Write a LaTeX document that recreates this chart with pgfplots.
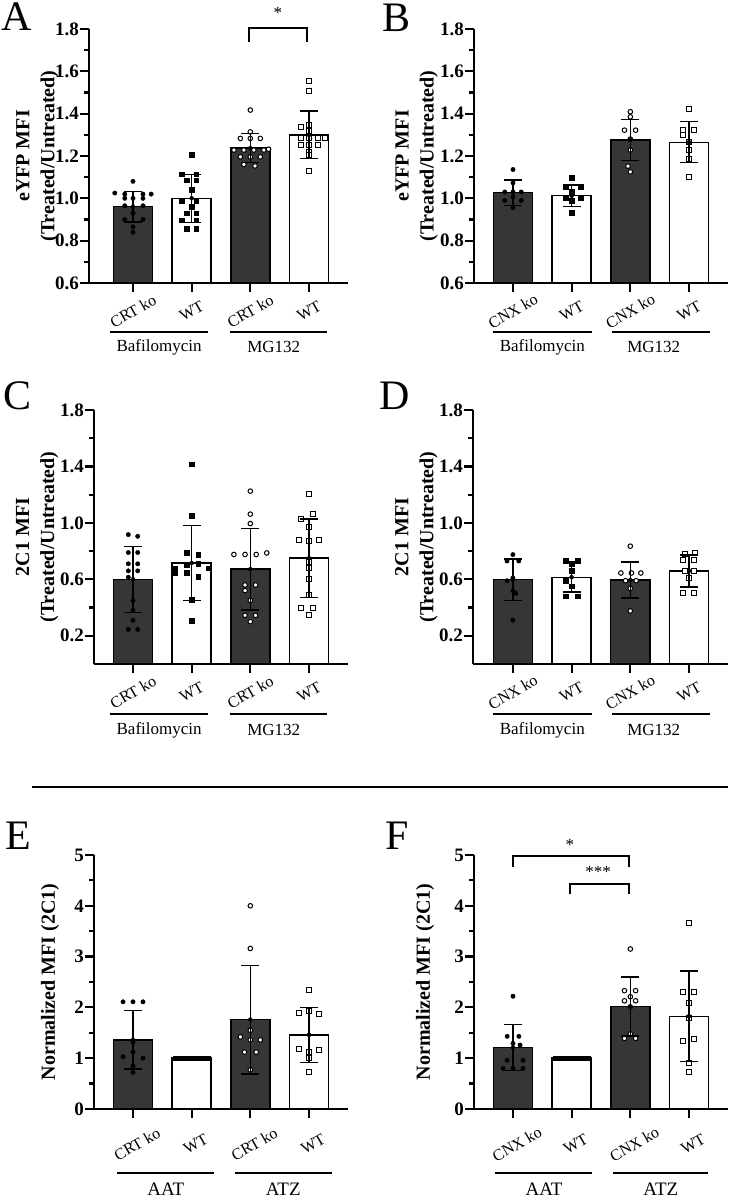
\documentclass[border=0pt]{standalone}
\usepackage{pgfplots}
\pgfplotsset{compat=1.18}
\usepackage{fontspec}
\setmainfont{Liberation Serif}
\definecolor{barDark}{RGB}{54,54,54}
\newcommand{\tickfont}{\bfseries\fontsize{19}{19}\selectfont}
\newcommand{\labfont}{\bfseries\fontsize{20}{25}\selectfont}
\newcommand{\catfont}{\fontsize{16}{16}\selectfont}
\newcommand{\grpfont}{\fontsize{17}{17}\selectfont}
\newcommand{\bigfont}{\fontsize{19}{19}\selectfont}
\pgfplotsset{
  panel/.style={
    scale only axis, height=254pt,
    axis lines=left, axis line style={-, line width=2.6pt, black},
    tick align=outside, major tick length=9pt, minor tick length=5pt,
    tick style={black, line width=2.2pt},
    minor x tick num=0, minor y tick num=1,
    xtick={0,1,2,3},
    xticklabel style={font=\catfont, anchor=center, yshift=-19pt, rotate=30},
    yticklabel style={font=\tickfont, inner sep=1pt},
    ylabel style={font=\labfont, align=center, anchor=center},
    clip mode=individual,
  },
  darkbar/.style={ybar, bar width=0.665, bar shift=0pt, fill=barDark, draw=black, line width=1.4pt},
  whitebar/.style={ybar, bar width=0.665, bar shift=0pt, fill=white, draw=black, line width=1.4pt},
  errs/.style={black, only marks, mark=none, error bars/.cd, y dir=both, y explicit,
    error bar style={line width=1.4pt, black},
    error mark options={rotate=90, mark size=9pt, line width=1.4pt, black}},
  fcirc/.style={only marks, mark=*, mark size=2.2pt, mark options={fill=black, draw=black, line width=0.4pt}},
  fsq/.style={only marks, mark=square*, mark size=2.3pt, mark options={fill=black, draw=black, line width=0.4pt}},
  ocirc/.style={only marks, mark=*, mark size=2.3pt, mark options={fill=white, draw=black, line width=1pt}},
  osq/.style={only marks, mark=square*, mark size=2.5pt, mark options={fill=white, draw=black, line width=1pt}},
}
\begin{document}
\begin{tikzpicture}[x=1pt,y=1pt]
\path[use as bounding box] (0,0) rectangle (731,1199);

% ---------------- Panel A ----------------
\begin{axis}[panel, at={(89pt,916pt)}, anchor=south west, width=259pt,
  xmin=-0.75, xmax=3.665, ymin=0.6, ymax=1.8,
  ytick={0.6,0.8,1.0,1.2,1.4,1.6,1.8}, yticklabels={0.6,0.8,1.0,1.2,1.4,1.6,1.8},
  xticklabels={CRT ko,WT,CRT ko,WT},
  ylabel={eYFP MFI\\(Treated/Untreated)},
  ylabel style={at={(axis description cs:-0.199,0.5)}}]
\addplot[darkbar] coordinates {(0,0.96) (2,1.237)};
\addplot[whitebar] coordinates {(1,1.0) (3,1.30)};
\addplot[fcirc] coordinates {(0,1.08) (-0.31,1.025) (-0.14,1.02) (0.17,1.02) (0.31,1.02) (-0.14,1.0) (0,1.0) (0.17,1.0) (-0.14,0.965) (0.17,0.965) (0,0.93) (-0.14,0.90) (0.17,0.90) (0,0.865) (0,0.84)};
\addplot[fsq] coordinates {(1,1.207) (0.83,1.114) (1.08,1.114) (0.92,1.086) (1.08,1.086) (1,1.04) (0.83,0.99) (1.08,0.99) (1,0.96) (0.92,0.93) (1.08,0.93) (0.83,0.896) (1.08,0.896) (0.92,0.857) (1.08,0.857)};
\addplot[ocirc] coordinates {(2,1.417) (2,1.314) (1.83,1.283) (2,1.283) (2.17,1.283) (1.72,1.228) (1.89,1.228) (2.06,1.228) (2.23,1.228) (2.31,1.232) (1.83,1.196) (2,1.196) (2.17,1.196) (1.89,1.16) (2.08,1.153)};
\addplot[osq] coordinates {(3,1.556) (3,1.508) (2.87,1.338) (3,1.346) (3,1.32) (2.87,1.283) (3,1.283) (3.15,1.283) (3.27,1.283) (2.87,1.251) (3,1.251) (3.15,1.251) (3,1.22) (3,1.204) (3,1.127)};
\addplot[errs] coordinates {(0,0.96) +- (0,0.072) (1,1.0) +- (0,0.113) (2,1.237) +- (0,0.068) (3,1.30) +- (0,0.113)};
\draw[line width=2pt] (axis cs:1.97,1.74) -- (axis cs:1.97,1.803) -- (axis cs:2.97,1.803) -- (axis cs:2.97,1.74);
\node[font=\grpfont] at (axis cs:2.47,1.875) {*};
\draw[line width=2.6pt] ([yshift=-49pt]axis cs:-0.39,0.6) -- ([yshift=-49pt]axis cs:1.28,0.6);
\draw[line width=2.6pt] ([yshift=-49pt]axis cs:1.65,0.6) -- ([yshift=-49pt]axis cs:3.31,0.6);
\node[font=\grpfont] at ([yshift=-64pt]axis cs:0.445,0.6) {Bafilomycin};
\node[font=\grpfont] at ([yshift=-64pt]axis cs:2.40,0.6) {MG132};
\end{axis}

% ---------------- Panel B ----------------
\begin{axis}[panel, at={(474pt,916pt)}, anchor=south west, width=254pt,
  xmin=-0.665, xmax=3.665, ymin=0.6, ymax=1.8,
  ytick={0.6,0.8,1.0,1.2,1.4,1.6,1.8}, yticklabels={0.6,0.8,1.0,1.2,1.4,1.6,1.8},
  xticklabels={CNX ko,WT,CNX ko,WT},
  ylabel={eYFP MFI\\(Treated/Untreated)},
  ylabel style={at={(axis description cs:-0.226,0.5)}}]
\addplot[darkbar] coordinates {(0,1.027) (2,1.275)};
\addplot[whitebar] coordinates {(1,1.012) (3,1.265)};
\addplot[fcirc] coordinates {(0,1.136) (0,1.073) (-0.14,1.03) (0,1.03) (0.14,1.03) (0,1.007) (-0.14,0.99) (0.14,0.99) (0,0.956)};
\addplot[fsq] coordinates {(1,1.097) (0.9,1.054) (1.15,1.054) (1,1.03) (0.9,1.0) (1.15,1.0) (1,0.99) (1,0.933)};
\addplot[ocirc] coordinates {(2,1.409) (2,1.385) (1.9,1.322) (2.09,1.322) (2,1.28) (2,1.228) (1.96,1.152) (2,1.125)};
\addplot[osq] coordinates {(3,1.422) (2.9,1.325) (3.08,1.325) (2.9,1.30) (3,1.267) (3,1.228) (3,1.188) (3,1.101)};
\addplot[errs] coordinates {(0,1.027) +- (0,0.06) (1,1.012) +- (0,0.05) (2,1.275) +- (0,0.097) (3,1.265) +- (0,0.097)};
\draw[line width=2.6pt] ([yshift=-49pt]axis cs:-0.34,0.6) -- ([yshift=-49pt]axis cs:1.35,0.6);
\draw[line width=2.6pt] ([yshift=-49pt]axis cs:1.69,0.6) -- ([yshift=-49pt]axis cs:3.36,0.6);
\node[font=\grpfont] at ([yshift=-64pt]axis cs:0.50,0.6) {Bafilomycin};
\node[font=\grpfont] at ([yshift=-64pt]axis cs:2.40,0.6) {MG132};
\end{axis}

% ---------------- Panel C ----------------
\begin{axis}[panel, at={(94pt,535pt)}, anchor=south west, width=254pt,
  xmin=-0.665, xmax=3.665, ymin=0, ymax=1.8,
  ytick={0.2,0.6,1.0,1.4,1.8}, yticklabels={0.2,0.6,1.0,1.4,1.8},
  xticklabels={CRT ko,WT,CRT ko,WT},
  ylabel={2C1 MFI\\(Treated/Untreated)},
  ylabel style={at={(axis description cs:-0.224,0.5)}}]
\addplot[darkbar] coordinates {(0,0.60) (2,0.672)};
\addplot[whitebar] coordinates {(1,0.716) (3,0.75)};
\addplot[fcirc] coordinates {(-0.08,0.917) (0.08,0.905) (-0.08,0.79) (0.08,0.79) (-0.08,0.71) (0.08,0.71) (-0.08,0.66) (0.08,0.66) (-0.08,0.615) (0,0.45) (0,0.38) (0,0.31) (-0.08,0.245) (0.08,0.245)};
\addplot[fsq] coordinates {(1,1.417) (1,1.049) (0.915,0.787) (1.11,0.775) (0.72,0.68) (0.915,0.70) (1.11,0.71) (1.28,0.68) (0.72,0.645) (0.915,0.645) (1.11,0.617) (1,0.456) (1,0.305)};
\addplot[ocirc] coordinates {(2,1.225) (2,1.062) (2,0.995) (1.72,0.776) (1.91,0.776) (2.1,0.776) (2.28,0.787) (1.91,0.56) (2.09,0.56) (1.91,0.52) (2,0.45) (1.91,0.345) (2.09,0.345) (2,0.30)};
\addplot[osq] coordinates {(3,1.208) (2.87,1.03) (3.07,1.06) (3,0.97) (2.83,0.88) (3,0.87) (3.17,0.88) (3,0.72) (3,0.68) (3,0.60) (3,0.49) (2.87,0.40) (3.07,0.40) (3,0.345)};
\addplot[errs] coordinates {(0,0.60) +- (0,0.234) (1,0.716) +- (0,0.264) (2,0.672) +- (0,0.288) (3,0.75) +- (0,0.278)};
\draw[line width=2.6pt] ([yshift=-50pt]axis cs:-0.39,0) -- ([yshift=-50pt]axis cs:1.28,0);
\draw[line width=2.6pt] ([yshift=-50pt]axis cs:1.65,0) -- ([yshift=-50pt]axis cs:3.31,0);
\node[font=\grpfont] at ([yshift=-66pt]axis cs:0.445,0) {Bafilomycin};
\node[font=\grpfont] at ([yshift=-66pt]axis cs:2.40,0) {MG132};
\end{axis}

% ---------------- Panel D ----------------
\begin{axis}[panel, at={(473pt,535pt)}, anchor=south west, width=255pt,
  xmin=-0.68, xmax=3.665, ymin=0, ymax=1.8,
  ytick={0.2,0.6,1.0,1.4,1.8}, yticklabels={0.2,0.6,1.0,1.4,1.8},
  xticklabels={CNX ko,WT,CNX ko,WT},
  ylabel={2C1 MFI\\(Treated/Untreated)},
  ylabel style={at={(axis description cs:-0.222,0.5)}}]
\addplot[darkbar] coordinates {(0,0.597) (2,0.595)};
\addplot[whitebar] coordinates {(1,0.615) (3,0.66)};
\addplot[fcirc] coordinates {(0,0.775) (-0.1,0.73) (0.1,0.73) (0,0.61) (-0.1,0.59) (0,0.52) (0.05,0.50) (0,0.31)};
\addplot[fsq] coordinates {(0.9,0.73) (1.1,0.73) (1,0.71) (1,0.66) (0.9,0.59) (1,0.55) (0.9,0.48) (1.1,0.48)};
\addplot[ocirc] coordinates {(2,0.835) (1.84,0.645) (2.02,0.645) (2.18,0.645) (1.92,0.59) (2.1,0.59) (2,0.535) (2,0.376)};
\addplot[osq] coordinates {(2.93,0.78) (3.1,0.785) (2.9,0.735) (3.09,0.735) (2.93,0.66) (3.08,0.66) (3,0.61) (2.9,0.505) (3.09,0.505)};
\addplot[errs] coordinates {(0,0.597) +- (0,0.147) (1,0.615) +- (0,0.106) (2,0.595) +- (0,0.128) (3,0.66) +- (0,0.113)};
\draw[line width=2.6pt] ([yshift=-50pt]axis cs:-0.34,0) -- ([yshift=-50pt]axis cs:1.35,0);
\draw[line width=2.6pt] ([yshift=-50pt]axis cs:1.69,0) -- ([yshift=-50pt]axis cs:3.36,0);
\node[font=\grpfont] at ([yshift=-66pt]axis cs:0.50,0) {Bafilomycin};
\node[font=\grpfont] at ([yshift=-66pt]axis cs:2.40,0) {MG132};
\end{axis}

% ---------------- Panel E ----------------
\begin{axis}[panel, at={(94pt,90pt)}, anchor=south west, width=254pt,
  xmin=-0.665, xmax=3.665, ymin=0, ymax=5,
  ytick={0,1,2,3,4,5}, yticklabels={0,1,2,3,4,5},
  xticklabels={CRT ko,WT,CRT ko,WT},
  xticklabel style={yshift=-8pt},
  ylabel={Normalized MFI (2C1)},
  ylabel style={at={(axis description cs:-0.173,0.5)}}]
\addplot[darkbar] coordinates {(0,1.36) (2,1.76)};
\addplot[whitebar] coordinates {(1,1.0) (3,1.46)};
\addplot[fcirc] coordinates {(-0.17,2.11) (0,2.11) (0.17,2.11) (0,1.31) (0,1.12) (-0.17,1.03) (0.17,1.0) (0,0.85) (0,0.72)};
\addplot[fsq] coordinates {(0.72,1) (0.79,1) (0.86,1) (0.93,1) (1,1) (1.07,1) (1.14,1) (1.21,1) (1.28,1)};
\addplot[ocirc] coordinates {(2,4.0) (2,3.16) (2,1.55) (1.83,1.42) (2.17,1.36) (2,1.36) (1.9,1.12) (2.1,1.12) (2,0.77)};
\addplot[osq] coordinates {(3,2.34) (2.83,1.88) (3,1.92) (3.17,1.87) (2.83,1.19) (3.17,1.16) (3,1.12) (3,1.0) (3,0.73)};
\addplot[errs] coordinates {(0,1.36) +- (0,0.575) (1,1.0) +- (0,0) (2,1.76) +- (0,1.07) (3,1.46) +- (0,0.54)};
\draw[line width=2.6pt] ([yshift=-64pt]axis cs:-0.27,0) -- ([yshift=-64pt]axis cs:1.38,0);
\draw[line width=2.6pt] ([yshift=-64pt]axis cs:1.74,0) -- ([yshift=-64pt]axis cs:3.39,0);
\node[font=\bigfont] at ([yshift=-80pt]axis cs:0.56,0) {AAT};
\node[font=\bigfont] at ([yshift=-80pt]axis cs:2.56,0) {ATZ};
\end{axis}

% ---------------- Panel F ----------------
\begin{axis}[panel, at={(474pt,90pt)}, anchor=south west, width=254pt,
  xmin=-0.665, xmax=3.665, ymin=0, ymax=5,
  ytick={0,1,2,3,4,5}, yticklabels={0,1,2,3,4,5},
  xticklabels={CNX ko,WT,CNX ko,WT},
  xticklabel style={yshift=-8pt},
  ylabel={Normalized MFI (2C1)},
  ylabel style={at={(axis description cs:-0.193,0.5)}}]
\addplot[darkbar] coordinates {(0,1.21) (2,2.02)};
\addplot[whitebar] coordinates {(1,1.0) (3,1.825)};
\addplot[fcirc] coordinates {(0,2.22) (-0.1,1.43) (0.1,1.43) (0,1.29) (0.12,1.26) (-0.1,0.96) (0.17,0.96) (-0.17,0.80) (0,0.80) (0.17,0.80)};
\addplot[fsq] coordinates {(0.72,1) (0.79,1) (0.86,1) (0.93,1) (1,1) (1.07,1) (1.14,1) (1.21,1) (1.28,1)};
\addplot[ocirc] coordinates {(2,3.15) (1.9,2.33) (2.09,2.33) (2,2.21) (1.9,2.13) (2.09,2.13) (2,2.01) (2,1.48) (1.9,1.39) (2.09,1.39)};
\addplot[osq] coordinates {(3,3.66) (2.9,2.30) (3.09,2.30) (3,2.08) (3,1.80) (2.9,1.33) (3.09,1.38) (3,0.91) (3,0.73)};
\addplot[errs] coordinates {(0,1.21) +- (0,0.45) (1,1.0) +- (0,0) (2,2.02) +- (0,0.58) (3,1.825) +- (0,0.89)};
\draw[line width=2pt] (axis cs:0,4.77) -- (axis cs:0,4.98) -- (axis cs:1.97,4.98) -- (axis cs:1.97,4.77);
\node[font=\grpfont] at (axis cs:0.97,5.2) {*};
\draw[line width=2pt] (axis cs:0.97,4.23) -- (axis cs:0.97,4.43) -- (axis cs:1.97,4.43) -- (axis cs:1.97,4.23);
\node[font=\grpfont] at (axis cs:1.45,4.66) {***};
\draw[line width=2.6pt] ([yshift=-64pt]axis cs:-0.31,0) -- ([yshift=-64pt]axis cs:1.35,0);
\draw[line width=2.6pt] ([yshift=-64pt]axis cs:1.70,0) -- ([yshift=-64pt]axis cs:3.32,0);
\node[font=\bigfont] at ([yshift=-80pt]axis cs:0.53,0) {AAT};
\node[font=\bigfont] at ([yshift=-80pt]axis cs:2.52,0) {ATZ};
\end{axis}

% separator and panel letters
\draw[line width=2pt] (32,412) -- (728,412);
\node[font=\fontsize{42}{42}\selectfont, inner sep=0pt] at (17,1182) {A};
\node[font=\fontsize{42}{42}\selectfont, inner sep=0pt] at (397,1181) {B};
\node[font=\fontsize{42}{42}\selectfont, inner sep=0pt] at (18,803) {C};
\node[font=\fontsize{42}{42}\selectfont, inner sep=0pt] at (395,803) {D};
\node[font=\fontsize{42}{42}\selectfont, inner sep=0pt] at (18,363) {E};
\node[font=\fontsize{42}{42}\selectfont, inner sep=0pt] at (397,363) {F};
\end{tikzpicture}
\end{document}
